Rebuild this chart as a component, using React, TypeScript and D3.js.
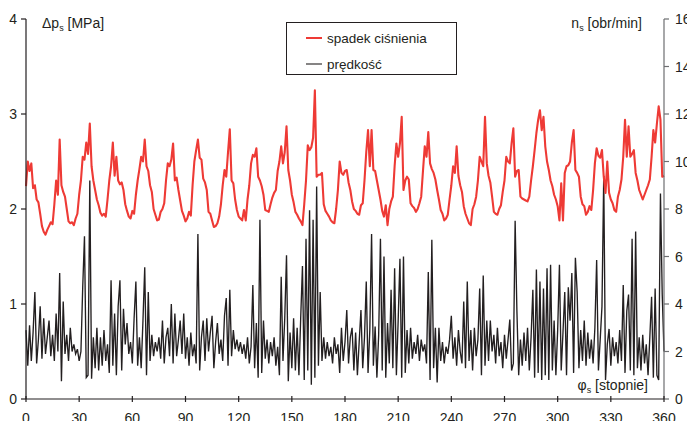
import React from "react";
import * as d3 from "d3";

// x tick labels (degrees)
const xTicks = [0, 30, 60, 90, 120, 150, 180, 210, 240, 270, 300, 330, 360];
const leftTicks = [0, 1, 2, 3, 4];
const rightTicks = [0, 2, 4, 6, 8, 10, 12, 14, 16];

// pressure drop Δp [MPa], one sample per degree 0..360
const pressure = [
  2.24, 2.5, 2.4, 2.48, 2.22, 2.25, 2.1, 2.07, 1.95, 1.82,
  1.76, 1.73, 1.78, 1.82, 1.86, 1.84, 2.05, 2.3, 2.15, 2.73,
  2.25, 2.18, 2.13, 2.0, 1.87, 1.85, 1.86, 1.83, 1.9, 1.95,
  2.15, 2.3, 2.55, 2.52, 2.7, 2.58, 2.9, 2.45, 2.3, 2.2,
  2.1, 2.04, 1.96, 1.93, 1.95, 1.92, 2.1, 2.3, 2.45, 2.7,
  2.35, 2.55, 2.3, 2.26, 2.28, 2.2, 2.05, 1.98, 1.92, 1.9,
  1.98, 1.95, 2.15, 2.3, 2.42, 2.55, 2.5, 2.73, 2.45, 2.4,
  2.25, 2.18, 2.0, 1.94, 1.88, 1.89, 1.97, 2.0, 2.06, 2.3,
  2.48, 2.45, 2.52, 2.69, 2.3, 2.33, 2.2, 2.09, 1.98, 1.93,
  1.87, 1.9, 1.97, 1.93, 2.25, 2.5, 2.62, 2.73, 2.54, 2.52,
  2.32, 2.28, 2.2, 1.97, 1.95, 1.88, 1.81, 1.82, 1.85, 1.92,
  2.05, 2.25, 2.41, 2.34, 2.6, 2.84, 2.3, 2.27, 2.1, 1.99,
  1.92, 1.9, 1.88, 1.99, 1.88, 2.1, 2.25, 2.48, 2.57, 2.55,
  2.64, 2.34, 2.3, 2.24, 2.15, 1.99, 1.98, 1.97, 2.05, 2.12,
  2.17, 2.2, 2.4, 2.5, 2.66, 2.48, 2.6, 2.87, 2.41, 2.3,
  2.15, 2.07, 1.97, 1.94, 1.9, 1.87, 1.83, 2.05, 2.3, 2.67,
  2.62, 2.65, 2.75, 3.25, 2.34, 2.36, 2.36, 2.38, 2.05, 1.98,
  1.95, 1.92, 1.88, 1.86, 1.85, 2.0, 2.2, 2.5, 2.38, 2.36,
  2.4, 2.41, 2.28, 2.2, 2.08, 2.0, 1.98, 1.95, 1.94, 2.04,
  2.06, 2.3, 2.6, 2.83, 2.45, 2.83, 2.41, 2.4, 2.3, 2.2,
  2.1, 1.98, 1.92, 2.04, 1.83, 2.0, 2.08, 2.13, 2.45, 2.69,
  2.55, 2.69, 2.97, 2.2, 2.3, 2.34, 2.31, 2.06, 2.03, 2.01,
  1.97, 2.0, 2.06, 2.13, 2.4, 2.66, 2.55, 2.81, 2.48, 2.42,
  2.38, 2.31, 2.2, 2.1, 1.99, 1.95, 1.88, 1.9, 1.94, 2.1,
  2.25, 2.45, 2.38, 2.66, 2.35, 2.25, 2.18, 2.03, 1.95, 1.9,
  1.85, 1.83, 2.0, 2.05, 2.13, 2.3, 2.55, 2.5, 2.45, 2.97,
  2.48, 2.35, 2.28, 2.13, 1.97, 1.95, 1.94, 2.0, 2.04, 2.18,
  2.3, 2.55, 2.5, 2.48, 2.69, 2.85, 2.34, 2.4, 2.41, 2.13,
  2.11, 2.1, 2.09, 2.08, 2.13, 2.3, 2.45, 2.62, 2.8, 2.94,
  3.04, 2.83, 2.97, 2.66, 2.5, 2.41, 2.3, 2.24, 2.15, 2.1,
  2.03, 1.88, 2.27, 1.88, 2.38, 2.45, 2.46, 2.5, 2.7, 2.83,
  2.41, 2.38, 2.34, 2.13, 2.05, 2.03, 1.94, 1.97, 2.03, 1.99,
  2.2, 2.48, 2.64, 2.56, 2.54, 2.62, 2.34, 2.17, 2.5, 2.17,
  2.1, 2.06, 1.99, 1.97, 2.13, 2.2, 2.31, 2.55, 2.94, 2.55,
  2.87, 2.55, 2.58, 2.62, 2.38, 2.3, 2.2, 2.15, 2.1, 2.15,
  2.2, 2.25, 2.31, 2.55, 2.83, 2.7, 2.9, 3.08, 2.94, 2.34,
  2.35,
];

// rotational speed n [obr/min], one sample per degree 0..360
const speed = [
  2.9, 1.4, 3.1, 1.6, 2.8, 4.5, 1.5, 2.5, 3.9, 1.7,
  3.4, 1.9, 2.6, 3.3, 1.8, 2.7, 1.6, 3.6, 2.0, 5.3,
  0.75, 4.1, 1.9, 2.7, 1.6, 3.0, 2.0, 2.3, 1.9, 2.1,
  1.6, 2.0, 4.7, 6.85, 0.9, 1.0, 9.2, 0.85, 2.6, 1.3,
  3.0, 1.2, 2.6, 1.4, 2.9, 1.6, 2.3, 1.1, 5.0, 1.4,
  3.6, 1.0, 3.9, 5.0, 1.2, 3.8, 2.3, 3.2, 1.9, 2.4,
  1.5, 3.4, 4.95, 1.4, 2.6, 1.3, 3.3, 5.55, 1.0, 4.5,
  1.6, 2.7, 1.8, 2.4, 2.0, 2.6, 1.7, 3.3, 1.5, 2.6,
  3.0, 1.8, 4.0, 1.5, 3.6, 1.8, 2.5, 3.3, 1.9, 3.6,
  1.7, 2.6, 1.4, 2.8, 1.8, 2.3, 1.5, 6.95, 1.2, 2.6,
  3.3, 1.6, 3.4, 2.0, 2.8, 3.5, 1.3, 2.4, 3.2, 1.9,
  2.5, 1.6, 3.5, 4.25, 1.4, 4.6, 1.8, 2.9, 2.1, 2.5,
  2.0, 2.4, 1.9, 2.3, 1.7, 2.6, 1.5, 2.2, 4.8, 1.3,
  3.2, 0.9, 7.55, 1.1, 3.3, 1.7, 2.5, 1.5, 2.4, 1.8,
  2.6, 1.4, 2.2, 1.0, 5.15, 1.6, 3.4, 6.05, 0.75, 2.8,
  1.3, 3.4, 1.2, 3.0, 1.0, 3.4, 5.6, 0.8, 6.75, 1.2,
  7.95, 0.6, 7.55, 0.9, 8.95, 1.4, 4.5, 1.6, 2.6, 1.7,
  2.4, 1.8, 2.2, 1.5, 2.6, 1.9, 2.3, 1.1, 3.0, 1.6,
  2.4, 3.75, 1.5, 2.6, 3.0, 1.2, 2.8, 1.0, 2.4, 3.75,
  1.3, 2.6, 4.95, 1.1, 2.9, 6.95, 1.4, 3.05, 0.9, 2.7,
  6.75, 1.2, 6.0, 0.9, 3.2, 1.5, 4.6, 1.3, 5.5, 1.0,
  3.3, 5.9, 0.9, 6.0, 1.1, 2.9, 1.5, 3.0, 1.7, 2.4,
  1.9, 2.7, 1.6, 2.5, 2.0, 2.3, 1.5, 5.35, 0.8, 6.7,
  1.3, 3.0, 0.7, 3.0, 1.6, 2.4, 1.5, 2.2, 1.9, 2.5,
  3.5, 1.7, 2.6, 1.4, 2.9, 2.0, 1.5, 4.1, 1.3, 4.95,
  1.6, 2.9, 1.2, 3.0, 1.8, 2.5, 4.65, 1.0, 5.2, 1.4,
  3.3, 1.6, 3.3, 2.0, 2.7, 1.5, 3.0, 1.8, 2.4, 1.3,
  2.7, 1.7, 2.5, 3.35, 1.2, 1.5, 7.5, 3.7, 1.0, 2.5,
  1.4, 2.8, 1.6, 3.0, 1.2, 2.6, 4.6, 0.9, 5.45, 1.1,
  4.95, 0.8, 4.65, 1.0, 5.5, 0.8, 5.65, 1.2, 3.3, 1.0,
  2.9, 5.65, 1.2, 2.8, 4.5, 1.0, 4.7, 3.3, 5.3, 1.1,
  5.95, 4.5, 1.3, 2.9, 1.6, 3.3, 1.4, 2.8, 1.7, 2.5,
  1.5, 3.0, 5.85, 1.2, 2.5, 3.9, 9.4, 0.8, 2.3, 2.95,
  1.4, 2.6, 1.8, 2.4, 1.5, 2.9, 1.6, 4.8, 1.1, 3.7,
  4.4, 1.2, 6.75, 1.0, 7.05, 1.3, 2.6, 1.2, 2.7, 1.5,
  2.3, 1.0, 2.6, 4.3, 0.9, 4.65, 1.0, 0.8, 8.65, 4.4,
  2.0,
];

const W = 687;
const H = 421;
const FONT = "'Liberation Sans', Arial, Helvetica, sans-serif";
const RED = "#ee3a35";
const DARK = "#231f20";
const GREY = "#6d6e71";

export default function App() {
  const x = d3.scaleLinear().domain([0, 360]).range([26, 664]);
  const yL = d3.scaleLinear().domain([0, 4]).range([399, 19]);
  const yR = d3.scaleLinear().domain([0, 16]).range([399, 19]);

  const redLine = d3
    .line<number>()
    .x((_, i) => x(i))
    .y((d) => yL(d))(pressure) as string;
  const blackLine = d3
    .line<number>()
    .x((_, i) => x(i))
    .y((d) => yR(d))(speed) as string;

  return (
    <svg
      width={W}
      height={H}
      style={{ position: "absolute", left: 0, top: 0, background: "#fff" }}
      fontFamily={FONT}
    >
      <rect x={0} y={0} width={W} height={H} fill="#fff" />
      {/* data */}
      <path d={blackLine} fill="none" stroke={DARK} strokeWidth={1.35} strokeLinejoin="miter" />
      <path d={redLine} fill="none" stroke={RED} strokeWidth={2.1} strokeLinejoin="round" />

      {/* left axis */}
      <line x1={x(0)} x2={x(0)} y1={yL(4)} y2={yL(0)} stroke={DARK} strokeWidth={1.2} />
      {leftTicks.map((t) => (
        <g key={"l" + t}>
          <line x1={x(0) - 5} x2={x(0)} y1={yL(t)} y2={yL(t)} stroke={DARK} strokeWidth={1.2} />
          <text x={x(0) - 9} y={yL(t) + 5} textAnchor="end" fontSize={14} fill={DARK}>
            {t}
          </text>
        </g>
      ))}

      {/* right axis */}
      <line x1={x(360)} x2={x(360)} y1={yR(16)} y2={yR(0)} stroke={GREY} strokeWidth={1.2} />
      {rightTicks.map((t) => (
        <g key={"r" + t}>
          <line x1={x(360)} x2={x(360) + 5} y1={yR(t)} y2={yR(t)} stroke={GREY} strokeWidth={1.2} />
          <text x={x(360) + 11} y={yR(t) + 5} textAnchor="start" fontSize={14} fill={DARK}>
            {t}
          </text>
        </g>
      ))}

      {/* bottom axis */}
      <line x1={x(0)} x2={x(360)} y1={yL(0)} y2={yL(0)} stroke={DARK} strokeWidth={1.2} />
      {xTicks.map((t) => (
        <g key={"x" + t}>
          <line x1={x(t)} x2={x(t)} y1={yL(0) - 3} y2={yL(0) + 3} stroke={DARK} strokeWidth={1.2} />
          <text x={x(t)} y={423} textAnchor="middle" fontSize={14} fill={DARK}>
            {t}
          </text>
        </g>
      ))}

      {/* axis titles */}
      <text x={42} y={28} fontSize={14} fill={DARK}>
        Δp<tspan fontSize={9} dy={3}>s</tspan>
        <tspan dy={-3}> [MPa]</tspan>
      </text>
      <text x={642} y={28} fontSize={14} fill={DARK} textAnchor="end">
        n<tspan fontSize={9} dy={3}>s</tspan>
        <tspan dy={-3}> [obr/min]</tspan>
      </text>
      <text x={648} y={390} fontSize={14} fill={DARK} textAnchor="end">
        φ<tspan fontSize={9} dy={3}>s</tspan>
        <tspan dy={-3}> [stopnie]</tspan>
      </text>

      {/* legend */}
      <rect x={286.5} y={22.5} width={170} height={52} fill="#fff" stroke={DARK} strokeWidth={1} />
      <line x1={306} x2={322} y1={38} y2={38} stroke={RED} strokeWidth={2} />
      <text x={327} y={43} fontSize={13.5} fill={DARK}>
        spadek ciśnienia
      </text>
      <line x1={306} x2={322} y1={64} y2={64} stroke={DARK} strokeWidth={1.1} />
      <text x={327} y={69} fontSize={13.5} fill={DARK}>
        prędkość
      </text>
    </svg>
  );
}
